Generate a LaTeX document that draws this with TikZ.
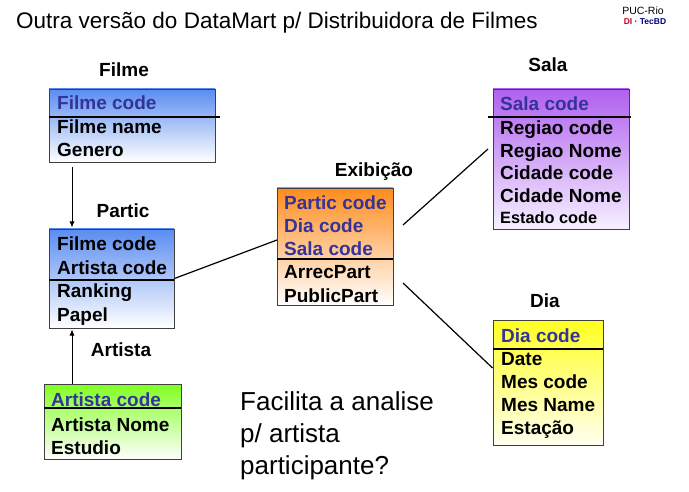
\documentclass[tikz,border=0pt]{standalone}
\usepackage{fontspec}
\setmainfont{Liberation Sans}
\usetikzlibrary{arrows.meta}
\definecolor{keycol}{RGB}{51,51,153}
\definecolor{bluetop}{RGB}{90,140,240}
\definecolor{greentop}{RGB}{128,255,32}
\definecolor{orangetop}{RGB}{255,140,30}
\definecolor{purpletop}{RGB}{176,96,240}
\definecolor{purplebot}{RGB}{246,240,255}
\definecolor{yellowtop}{RGB}{255,255,32}
\definecolor{yellowbot}{RGB}{255,255,240}
\definecolor{dired}{RGB}{200,0,40}
\definecolor{tecblue}{RGB}{0,0,128}
\tikzset{
  tablebox/.style={draw=black!75, line width=0.9pt, inner sep=0pt, shading=axis, shading angle=0},
  sepline/.style={line width=1.4pt, black},
  rowtext/.style={anchor=base west, inner sep=0pt, font=\fontsize{19}{19}\selectfont\bfseries},
  keytext/.style={rowtext, text=keycol},
  tlabel/.style={anchor=base, inner sep=0pt, font=\fontsize{19}{19}\selectfont\bfseries},
  conn/.style={line width=1.2pt, black},
  arr/.style={line width=0.9pt, black, -{Latex[length=6pt,width=5pt]}}
}
\begin{document}
\begin{tikzpicture}[x=1pt,y=-1pt]
\useasboundingbox (0,0) rectangle (689,492);
% title
\node[anchor=base west, inner sep=0pt, font=\fontsize{22.5}{22.5}\selectfont] (title) at (16,29) {Outra versão do DataMart p/ Distribuidora de Filmes};
\node[anchor=base, inner sep=0pt, font=\fontsize{10.5}{10.5}\selectfont] (puc) at (643,15) {PUC-Rio};
\node[anchor=base, inner sep=0pt, font=\fontsize{8.5}{8.5}\selectfont\bfseries] (ditec) at (645,25) {\textcolor{dired}{DI} \textcolor{tecblue}{\textperiodcentered{} TecBD}};

% Filme
\node[tablebox, top color=bluetop, bottom color=white, minimum width=166, minimum height=73] (filme) at (132,125.5) {};
\node[tlabel] (filmelbl) at (124,77) {Filme};
\draw[sepline] (49,117) -- (220,117);
\node[keytext] (f1) at (57,110) {Filme code};
\node[rowtext] (f2) at (57,134) {Filme name};
\node[rowtext] (f3) at (57,157) {Genero};

% Partic
\node[tablebox, top color=bluetop, bottom color=white, minimum width=125, minimum height=99] (partic) at (111.5,278.5) {};
\node[tlabel] (particlbl) at (123,218) {Partic};
\draw[sepline] (49,280) -- (174,280);
\node[rowtext] (p1) at (57,251) {Filme code};
\node[rowtext] (p2) at (57,275) {Artista code};
\node[rowtext] (p3) at (57,298) {Ranking};
\node[rowtext] (p4) at (57,321) {Papel};

% Artista
\node[tablebox, top color=greentop, bottom color=white, minimum width=137, minimum height=75] (artista) at (112.5,421.5) {};
\node[tlabel] (artistalbl) at (121,356) {Artista};
\draw[sepline] (44,408) -- (181,408);
\node[keytext] (a1) at (51,406) {Artista code};
\node[rowtext] (a2) at (51,431) {Artista Nome};
\node[rowtext] (a3) at (51,454) {Estudio};

% Exibicao
\node[tablebox, top color=orangetop, bottom color=white, minimum width=116, minimum height=117] (exib) at (335,246.5) {};
\node[tlabel] (exiblbl) at (374,177) {Exibição};
\draw[sepline] (277,259) -- (393,259);
\node[keytext] (e1) at (284,210) {Partic code};
\node[keytext] (e2) at (284,233) {Dia code};
\node[keytext] (e3) at (284,256) {Sala code};
\node[rowtext] (e4) at (284,279) {ArrecPart};
\node[rowtext] (e5) at (284,302) {PublicPart};

% Sala
\node[tablebox, top color=purpletop, bottom color=purplebot, minimum width=136, minimum height=140] (sala) at (561,159) {};
\node[tlabel] (salalbl) at (548,72) {Sala};
\draw[sepline] (488,117) -- (631,117);
\node[keytext] (s1) at (500,111) {Sala code};
\node[rowtext] (s2) at (500,135) {Regiao code};
\node[rowtext] (s3) at (500,158) {Regiao Nome};
\node[rowtext] (s4) at (500,180) {Cidade code};
\node[rowtext] (s5) at (500,203) {Cidade Nome};
\node[rowtext, font=\fontsize{16.3}{16.3}\selectfont\bfseries] (s6) at (500,224) {Estado code};

% Dia
\node[tablebox, top color=yellowtop, bottom color=yellowbot, minimum width=110, minimum height=125] (dia) at (548,382.5) {};
\node[tlabel] (dialbl) at (545,308) {Dia};
\draw[sepline] (493,349) -- (603,349);
\node[keytext] (d1) at (501,342) {Dia code};
\node[rowtext] (d2) at (501,365) {Date};
\node[rowtext] (d3) at (501,388) {Mes code};
\node[rowtext] (d4) at (501,411) {Mes Name};
\node[rowtext] (d5) at (501,434) {Estação};

% connectors
\coordinate (fpA) at (72,167);
\coordinate (fpB) at (72,227.5);
\draw[arr] (fpA) -- (fpB);
\coordinate (apA) at (72,384);
\coordinate (apB) at (72,329.5);
\draw[arr] (apA) -- (apB);
\coordinate (peB) at (277,240);
\draw[conn] (partic.east) -- (peB);
\coordinate (esA) at (403,225);
\coordinate (esB) at (488,149);
\draw[conn] (esA) -- (esB);
\coordinate (edA) at (403,283);
\draw[conn] (edA) -- (dia.west |- 0,368);

% question
\node[anchor=base west, inner sep=0pt, font=\fontsize{26}{32}\selectfont] (q) at (240,410) {Facilita a analise};
\node[anchor=base west, inner sep=0pt, font=\fontsize{26}{32}\selectfont] (q2) at (240,442) {p/ artista};
\node[anchor=base west, inner sep=0pt, font=\fontsize{26}{32}\selectfont] (q3) at (240,474) {participante?};
\end{tikzpicture}
\end{document}
